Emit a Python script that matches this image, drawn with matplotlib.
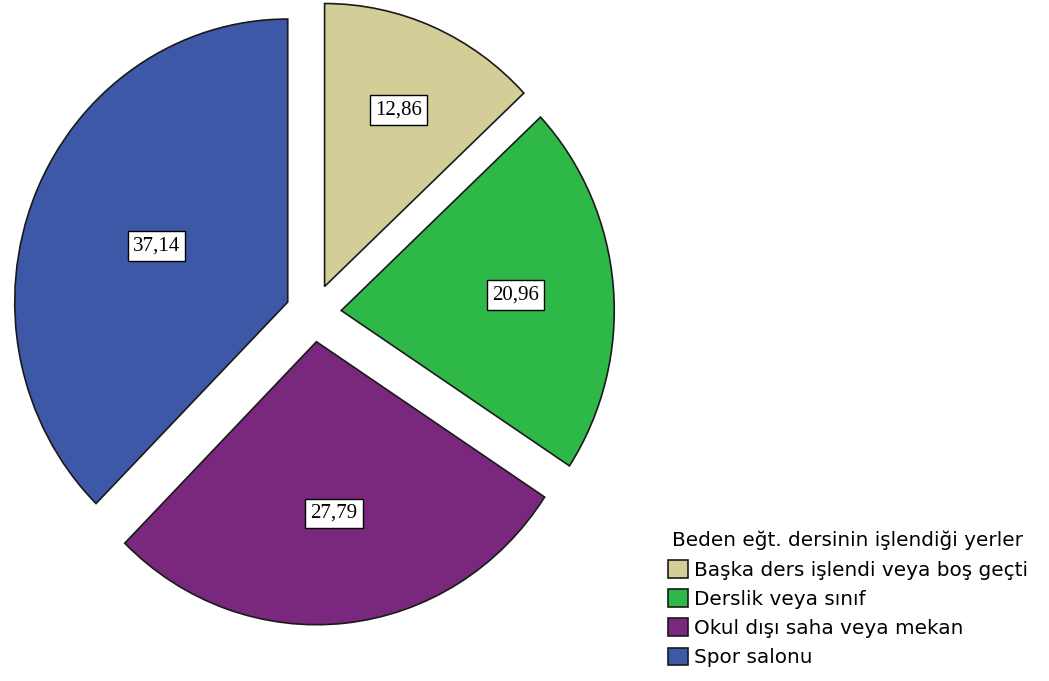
import numpy as np
import matplotlib
matplotlib.use("Agg")
import matplotlib.pyplot as plt

# data
categories = ["Başka ders işlendi veya boş geçti", "Derslik veya sınıf",
              "Okul dışı saha veya mekan", "Spor salonu"]
values = [12.86, 20.96, 27.79, 37.14]
value_labels = ["12,86", "20,96", "27,79", "37,14"]
legend_title = "Beden eğt. dersinin işlendiği yerler"

colors = ["#D3CE97", "#2EB848", "#79287D", "#3D58A7"]
label_dist = [0.68, 0.64, 0.61, 0.52]

W, H = 1049, 681
# pie is drawn slightly taller than wide (px per unit in x / y)
RX, RY = 273, 283
CX, CY = 313.5, H - 313

fig = plt.figure(figsize=(W / 100, H / 100), dpi=100)
ax = fig.add_axes([0, 0, 1, 1])

wedges, _ = ax.pie(values, colors=colors, startangle=90, counterclock=False,
                   radius=1, explode=[0.102] * 4,
                   wedgeprops=dict(edgecolor="#1a1a1a", linewidth=1.2))
ax.set_aspect("auto")
ax.set_xlim(-CX / RX, (W - CX) / RX)
ax.set_ylim(-CY / RY, (H - CY) / RY)
ax.axis("off")

for w, lab, d in zip(wedges, value_labels, label_dist):
    th = np.deg2rad((w.theta1 + w.theta2) / 2)
    x0, y0 = w.center
    ax.text(x0 + d * np.cos(th), y0 + d * np.sin(th), lab,
            ha="center", va="center", fontsize=15, family="Liberation Serif",
            bbox=dict(boxstyle="square,pad=0.25", fc="white", ec="black", lw=1))

# legend, anchored in inches from the lower-left corner
leg = fig.legend(wedges, categories, title=legend_title, loc="upper left",
                 bbox_to_anchor=(6.62, (H - 525) / 100),
                 bbox_transform=fig.dpi_scale_trans,
                 frameon=False, fontsize=14.4, title_fontsize=14.4,
                 handlelength=1.0, handleheight=1.0, handletextpad=0.3,
                 labelspacing=0.47, borderpad=0.3, borderaxespad=0)
for h in leg.legend_handles:
    h.set_edgecolor("#1a1a1a")
    h.set_linewidth(1.2)

fig.savefig("out.png", dpi=100, facecolor="white")
